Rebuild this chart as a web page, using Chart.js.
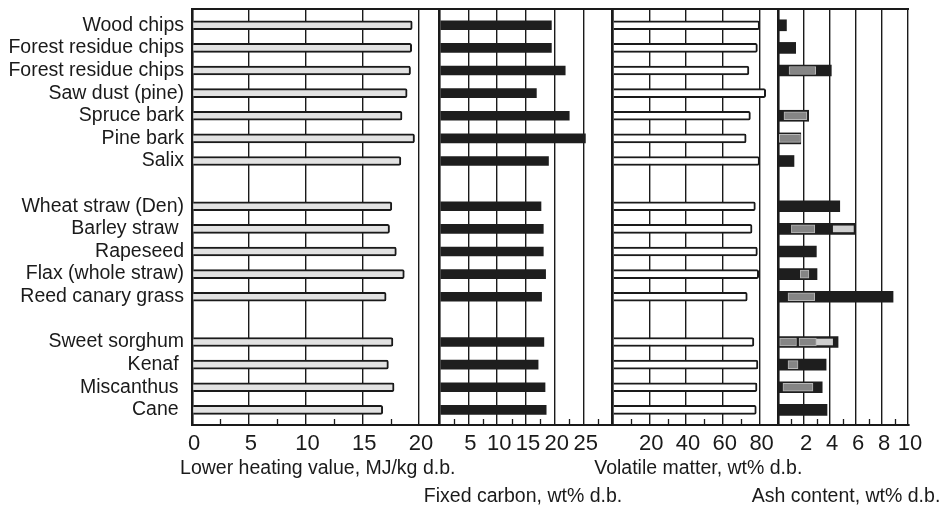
<!DOCTYPE html>
<html lang="en">
<head>
  <meta charset="UTF-8">
  <title>Biomass fuel properties</title>
  <!-- Chart.js for the panels -->
  <script src="https://cdn.jsdelivr.net/npm/chart.js"></script>
  <style>
    html, body { margin: 0; padding: 0; background: #fff; }
    .chart-container { position: relative; width: 947px; height: 511px; }
  </style>
</head>
<body>
  <div class="chart-container">
    <canvas id="fuelChart"></canvas>
  </div>

  <script>
    // Row labels, '' marks the spacer rows between fuel groups
    const categories = ['Wood chips', 'Forest residue chips', 'Forest residue chips', 'Saw dust (pine)',
      'Spruce bark', 'Pine bark', 'Salix', '',
      'Wheat straw (Den)', 'Barley straw ', 'Rapeseed', 'Flax (whole straw)', 'Reed canary grass', '',
      'Sweet sorghum', 'Kenaf ', 'Miscanthus ', 'Cane '];

    // Values per panel (null = spacer row)
    const heatingValue   = [19.4, 19.35, 19.25, 18.95, 18.5, 19.6, 18.4, null, 17.6, 17.4, 18.0, 18.7, 17.1, null, 17.7, 17.3, 17.8, 16.8];
    const fixedCarbon    = [19.4, 19.4, 21.8, 16.8, 22.5, 25.3, 18.9, null, 17.6, 18.0, 18.0, 18.4, 17.7, null, 18.1, 17.1, 18.3, 18.5];
    const volatileMatter = [80.0, 78.8, 74.2, 83.3, 75.0, 72.7, 80.0, null, 77.7, 75.9, 78.8, 79.5, 73.3, null, 76.9, 79.1, 78.6, 78.2];
    const ashContent     = [0.65, 1.36, 4.1, null, 2.36, 1.75, 1.23, null, 4.75, 5.96, 2.95, 3.0, 8.85, null, 4.62, 3.7, 3.4, 3.77];

    // Gray range marks printed over some ash bars: [row, from, to]
    const ashRanges = [[2, 0.85, 2.9], [4, 0.46, 2.22], [5, 0, 1.73], [9, 1.03, 2.83], [11, 1.72, 2.38],
      [12, 0.77, 2.82], [14, 0.13, 1.42], [14, 1.62, 2.95], [15, 0.77, 1.54], [16, 0.38, 2.69]];
    // Light note boxes on a couple of ash bars
    const ashNotes = [[9, 4.25, 5.8], [14, 2.95, 4.2]];

    // Panel axes
    const axisIds = ['x1', 'x2', 'x3', 'x4'];
    const axisTitles = ['Lower heating value, MJ/kg d.b.', 'Fixed carbon, wt% d.b.',
      'Volatile matter, wt% d.b.', 'Ash content, wt% d.b.'];
    const axisMax = [21.8, 30, 90, 10];
    const majorStep = [5, 5, 20, 2];
    const minorStep = [2.5, 2.5, 10, 1];

    const fontFamily = "'Liberation Sans', Arial, Helvetica, sans-serif";
    const ink = '#1a1a1a';

    function rows(values) {
      return values.map((v, i) => ({ y: i, x: v })).filter(d => d.x !== null);
    }

    function isMajor(v, i) {
      const r = v / majorStep[i];
      return Math.abs(r - Math.round(r)) < 1e-6;
    }

    // panel widths in px, used as stack weights
    const panelWeight = [247.5, 173, 165.5, 130];

    function panelScale(i) {
      return {
        type: 'linear',
        position: 'bottom',
        stack: 'panels',
        stackWeight: panelWeight[i],
        min: 0,
        max: axisMax[i],
        afterFit: s => { s.height = 86; s.paddingLeft = 0; s.paddingRight = 0; },
        grid: {
          drawTicks: false,
          color: ctx => isMajor(ctx.tick.value, i) ? ink : 'rgba(0,0,0,0)',
          lineWidth: ctx => ctx.tick.value === 0 ? 2.6 : 1.4
        },
        border: { display: true, color: ink, width: 2 },
        ticks: {
          stepSize: minorStep[i],
          includeBounds: false,
          autoSkip: false,
          maxRotation: 0,
          padding: 6,
          labelOffset: 2,
          color: ink,
          font: { family: fontFamily, size: 22 },
          callback: v => {
            if (!isMajor(v, i)) return '';
            if (i > 0 && v === 0) return '';
            if (i === 1 && v === axisMax[i]) return '';
            return String(v);
          }
        }
      };
    }

    // Top frame line, half-step ticks along the bottom, and the staggered axis titles
    const titleY = [469, 497, 469, 497];
    const titleShift = [2, -3, 3, 3];
    const frameAndTitles = {
      id: 'frameAndTitles',
      afterDraw(chart) {
        const { ctx, chartArea } = chart;
        ctx.save();
        ctx.strokeStyle = ink;
        ctx.lineWidth = 2;
        ctx.beginPath();
        ctx.moveTo(chartArea.left - 1, chartArea.top);
        ctx.lineTo(chartArea.right + 1, chartArea.top);
        ctx.stroke();

        ctx.lineWidth = 1.3;
        axisIds.forEach((id, i) => {
          const scale = chart.scales[id];
          for (let v = minorStep[i]; v < axisMax[i]; v += majorStep[i]) {
            const px = Math.round(scale.getPixelForValue(v)) + 0.5;
            ctx.beginPath();
            ctx.moveTo(px, chartArea.bottom);
            ctx.lineTo(px, chartArea.bottom - 6);
            ctx.stroke();
          }
        });

        ctx.fillStyle = ink;
        ctx.font = '19.5px ' + fontFamily;
        ctx.textAlign = 'center';
        ctx.textBaseline = 'middle';
        axisIds.forEach((id, i) => {
          const scale = chart.scales[id];
          ctx.fillText(axisTitles[i], (scale.left + scale.right) / 2 + titleShift[i], titleY[i]);
        });
        ctx.restore();
      }
    };

    const scales = {
      y: {
        type: 'linear',
        reverse: true,
        offset: false,
        min: -0.72,
        max: 17.67,
        afterFit: s => { s.width = 192; s.paddingTop = 0; s.paddingBottom = 0; },
        afterBuildTicks: s => {
          s.ticks = categories.map((c, i) => ({ value: i })).filter(t => categories[t.value] !== '');
        },
        grid: { display: false, drawTicks: false },
        border: { display: true, color: ink, width: 2 },
        ticks: {
          autoSkip: false,
          padding: 8,
          color: ink,
          font: { family: fontFamily, size: 19.5 },
          callback: v => categories[v]
        }
      }
    };
    axisIds.forEach((id, i) => { scales[id] = panelScale(i); });

    new Chart(document.getElementById('fuelChart'), {
      type: 'bar',
      data: {
        datasets: [
          {
            label: 'Lower heating value',
            xAxisID: 'x1',
            data: rows(heatingValue),
            backgroundColor: '#e2e2e2',
            borderColor: ink,
            borderWidth: 2,
            borderRadius: 2,
            barThickness: 9,
            grouped: false
          },
          {
            label: 'Fixed carbon',
            xAxisID: 'x2',
            data: rows(fixedCarbon),
            backgroundColor: '#1e1e1e',
            barThickness: 9,
            grouped: false
          },
          {
            label: 'Volatile matter',
            xAxisID: 'x3',
            data: rows(volatileMatter),
            backgroundColor: '#ffffff',
            borderColor: ink,
            borderWidth: 2,
            borderRadius: 2,
            barThickness: 9,
            grouped: false
          },
          {
            label: 'Ash ranges',
            xAxisID: 'x4',
            data: ashRanges.map(r => ({ y: r[0], x: [r[1], r[2]] })),
            backgroundColor: '#858585',
            borderColor: '#b8b8b8',
            borderWidth: 1,
            borderSkipped: false,
            barThickness: 8,
            grouped: false,
            order: 0
          },
          {
            label: 'Ash notes',
            xAxisID: 'x4',
            data: ashNotes.map(r => ({ y: r[0], x: [r[1], r[2]] })),
            backgroundColor: '#cfcfcf',
            barThickness: 6,
            grouped: false,
            order: 0
          },
          {
            label: 'Ash content',
            xAxisID: 'x4',
            data: rows(ashContent),
            backgroundColor: '#1e1e1e',
            barThickness: 11,
            grouped: false,
            order: 1
          }
        ]
      },
      options: {
        indexAxis: 'y',
        responsive: true,
        maintainAspectRatio: false,
        animation: false,
        layout: { padding: { left: 0, right: 39, top: 9, bottom: 0 } },
        plugins: {
          legend: { display: false },
          tooltip: { enabled: false }
        },
        scales: scales
      },
      plugins: [frameAndTitles]
    });
  </script>
</body>
</html>
